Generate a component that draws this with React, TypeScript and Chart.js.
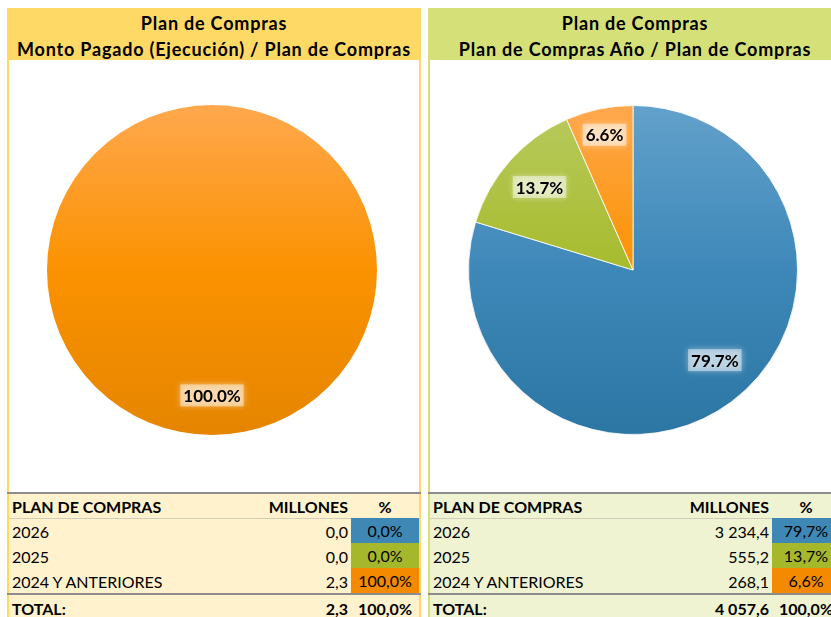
import React, { useEffect, useRef } from "react";
import { Chart, registerables } from "chart.js";
Chart.register(...registerables);

const categories = ["2026", "2025", "2024 Y ANTERIORES"];
const leftMillones = [0.0, 0.0, 2.3];
const leftPct = [0.0, 0.0, 100.0];
const leftTotal = 2.3;
const rightMillones = [3234.4, 555.2, 268.1];
const rightPct = [79.7, 13.7, 6.6];
const rightTotal = 4057.6;
const leftTitle = ["Plan de Compras", "Monto Pagado (Ejecución) / Plan de Compras"];
const rightTitle = ["Plan de Compras", "Plan de Compras Año / Plan de Compras"];

const sliceColors = [
  { light: "#62A1CB", base: "#3E88B9", dark: "#2C76A4" },
  { light: "#B8CA5E", base: "#A7BB2D", dark: "#98AC1E" },
  { light: "#FFA84E", base: "#FB9200", dark: "#E58500" },
];
const cellColors = ["#3F88B6", "#A5B82B", "#F48A00"];

const FONT = "Lato, 'Open Sans', sans-serif";

function fmtNum(v: number) {
  const s = v.toFixed(1);
  const [i, d] = s.split(".");
  const ii = i.replace(/\B(?=(\d{3})+(?!\d))/g, " ");
  return ii + "," + d;
}

const labelPlugin = {
  id: "pieLabels",
  afterDatasetsDraw(chart: any) {
    const ctx = chart.ctx;
    const meta = chart.getDatasetMeta(0);
    const data = chart.data.datasets[0].data as number[];
    const total = data.reduce((a, b) => a + b, 0);
    meta.data.forEach((arc: any, i: number) => {
      const v = data[i];
      if (!v) return;
      const p = v / total;
      const { x, y, startAngle, endAngle, outerRadius } = arc.getProps(
        ["x", "y", "startAngle", "endAngle", "outerRadius"],
        true
      );
      let mid = (startAngle + endAngle) / 2;
      if (p > 0.5 && p < 0.99) mid -= 0.1;
      const f = p < 0.1 ? 0.84 : p > 0.5 && p < 0.99 ? 0.74 : 0.76;
      const lx = x + Math.cos(mid) * outerRadius * f;
      const ly = y + Math.sin(mid) * outerRadius * f;
      const text = (p * 100).toFixed(1) + "%";
      ctx.save();
      ctx.font = "bold 17px " + FONT;
      const w = ctx.measureText(text).width;
      ctx.shadowColor = "rgba(255,255,255,0.9)";
      ctx.shadowBlur = 6;
      ctx.fillStyle = "rgba(255,255,255,0.45)";
      ctx.fillRect(lx - w / 2 - 3, ly - 11, w + 6, 22);
      ctx.shadowBlur = 0;
      ctx.fillStyle = "#000";
      ctx.textAlign = "center";
      ctx.textBaseline = "middle";
      ctx.fillText(text, lx, ly + 1);
      ctx.restore();
    });
  },
};

function PieChart({ values }: { values: number[] }) {
  const ref = useRef<HTMLCanvasElement>(null);
  useEffect(() => {
    const chart = new Chart(ref.current!, {
      type: "pie",
      data: {
        labels: categories,
        datasets: [
          {
            data: values,
            backgroundColor: (c: any) => {
              const sc = sliceColors[c.dataIndex];
              const area = c.chart.chartArea;
              if (!area) return sc.base;
              const g = c.chart.ctx.createLinearGradient(0, area.top, 0, area.bottom);
              g.addColorStop(0, sc.light);
              g.addColorStop(0.5, sc.base);
              g.addColorStop(1, sc.dark);
              return g;
            },
            borderColor: "rgba(255,255,255,0.8)",
            borderWidth: values.filter((v) => v > 0).length > 1 ? 1 : 0,
          },
        ],
      },
      options: {
        animation: false,
        responsive: false,
        maintainAspectRatio: false,
        layout: { padding: 0 },
        plugins: { legend: { display: false }, tooltip: { enabled: false } },
      },
      plugins: [labelPlugin],
    });
    return () => chart.destroy();
  }, []);
  return <canvas ref={ref} width={330} height={330} style={{ position: "absolute", left: 38, top: 45, width: 330, height: 330 }} />;
}

function Panel({
  x0,
  title,
  headerBg,
  borderColor,
  tableBg,
  millones,
  pct,
  total,
}: {
  x0: number;
  title: string[];
  headerBg: string;
  borderColor: string;
  tableBg: string;
  millones: number[];
  pct: number[];
  total: number;
}) {
  const W = 414;
  const rowH = 25;
  const textStyle: React.CSSProperties = {
    position: "absolute",
    fontFamily: FONT,
    fontSize: 16,
    lineHeight: rowH + "px",
    color: "#000",
    whiteSpace: "nowrap",
  };
  return (
    <div style={{ position: "absolute", left: x0, top: 0, width: W, height: 640 }}>
      {/* header */}
      <div
        style={{
          position: "absolute",
          left: 0,
          top: 8,
          width: W,
          height: 52,
          boxSizing: "border-box",
          paddingTop: 2,
          background: headerBg,
          fontFamily: FONT,
          fontWeight: "bold",
          fontSize: 18,
          letterSpacing: 0.8,
          textAlign: "center",
          lineHeight: "26px",
          color: "#000",
          whiteSpace: "nowrap",
        }}
      >
        <div>{title[0]}</div>
        <div>{title[1]}</div>
      </div>
      {/* borders */}
      <div style={{ position: "absolute", left: 0, top: 60, width: 2, height: 580, background: borderColor }} />
      <div style={{ position: "absolute", left: W - 2, top: 60, width: 2, height: 580, background: borderColor }} />
      {/* chart area */}
      <div style={{ position: "absolute", left: 2, top: 60, width: W - 4, height: 433, background: "#fff" }}>
        <PieChart values={millones} />
      </div>
      {/* table */}
      <div style={{ position: "absolute", left: 2, top: 493, width: W - 4, height: 150, background: tableBg }} />
      <div style={{ position: "absolute", left: 0, top: 492, width: W, height: 2, background: "#8C8C8C" }} />
      <div style={{ position: "absolute", left: 2, top: 518, width: W - 4, height: 1, background: "#D2CDB8" }} />
      <div style={{ position: "absolute", left: 0, top: 593, width: W, height: 2, background: "#8C8C8C" }} />
      <div style={{ ...textStyle, left: 5, top: 494, fontWeight: "bold" }}>PLAN DE COMPRAS</div>
      <div style={{ ...textStyle, right: W - 341, top: 494, fontWeight: "bold" }}>MILLONES</div>
      <div style={{ ...textStyle, left: 344, width: 68, textAlign: "center", top: 494, fontWeight: "bold" }}>%</div>
      {categories.map((c, i) => (
        <React.Fragment key={c}>
          <div style={{ ...textStyle, left: 5, top: 519 + i * rowH }}>{c}</div>
          <div style={{ ...textStyle, right: W - 341, top: 519 + i * rowH }}>{fmtNum(millones[i])}</div>
          <div
            style={{
              ...textStyle,
              left: 344,
              width: 68,
              height: rowH,
              textAlign: "center",
              top: 518 + i * rowH,
              background: cellColors[i],
            }}
          >
            {fmtNum(pct[i])}%
          </div>
        </React.Fragment>
      ))}
      <div style={{ ...textStyle, left: 5, top: 596, fontWeight: "bold" }}>TOTAL:</div>
      <div style={{ ...textStyle, right: W - 341, top: 596, fontWeight: "bold" }}>{fmtNum(total)}</div>
      <div style={{ ...textStyle, left: 344, width: 68, textAlign: "center", top: 596, fontWeight: "bold" }}>
        {fmtNum(pct.reduce((a, b) => a + b, 0))}%
      </div>
    </div>
  );
}

export default function App() {
  return (
    <div style={{ position: "fixed", left: 0, top: 0, width: 831, height: 617, overflow: "hidden", background: "#fff" }}>
      <Panel
        x0={7}
        title={leftTitle}
        headerBg="#FFD966"
        borderColor="#FFD966"
        tableBg="#FFF2CC"
        millones={leftMillones}
        pct={leftPct}
        total={leftTotal}
      />
      <Panel
        x0={428}
        title={rightTitle}
        headerBg="#D5E178"
        borderColor="#D5E178"
        tableBg="#EFF3D2"
        millones={rightMillones}
        pct={rightPct}
        total={rightTotal}
      />
    </div>
  );
}
